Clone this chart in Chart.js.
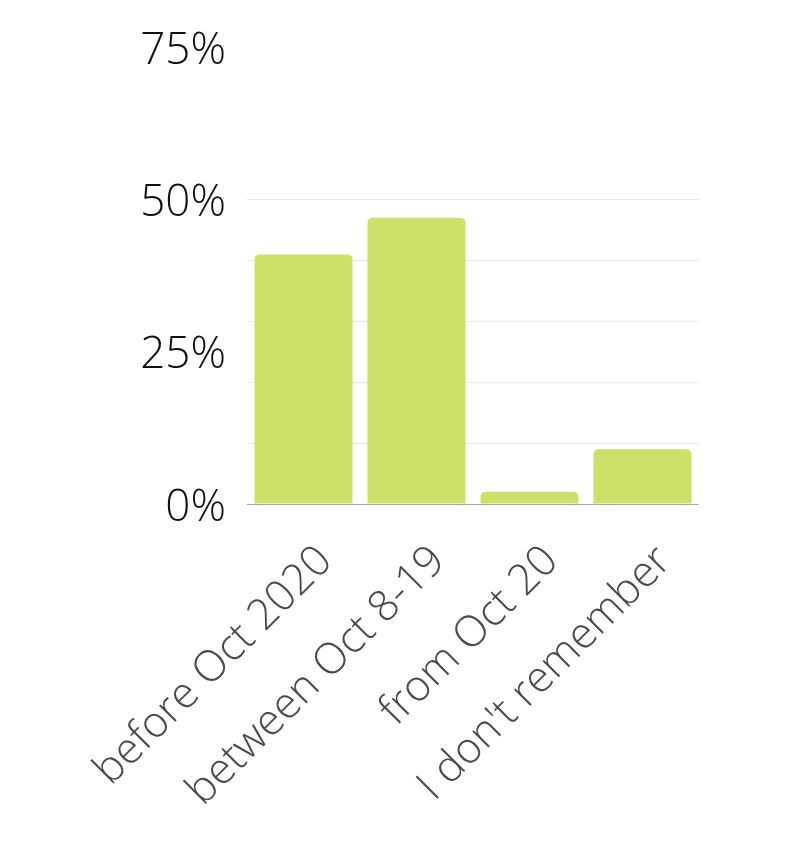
<!DOCTYPE html>
<html>
<head>
<meta charset="utf-8">
<script src="https://cdn.jsdelivr.net/npm/chart.js@4/dist/chart.umd.min.js"></script>
<style>
    html, body { margin: 0; padding: 0; background: #fff; }
    #wrap { width: 800px; height: 850px; }
</style>
</head>
<body>
<div id="wrap"><canvas id="answerChart"></canvas></div>
<script>
// values
const categories = ['before Oct 2020', 'between Oct 8-19', 'from Oct 20', "I don't remember"];
const shares = [41, 47, 2, 9];
const yTickLabels = [0, 25, 50, 75];
const gridValues = [0, 10, 20, 30, 40, 50];

const allTicks = [...new Set([...gridValues, ...yTickLabels])].sort((a, b) => a - b);

new Chart(document.getElementById('answerChart'), {
    type: 'bar',
    data: {
        labels: categories,
        datasets: [{
            data: shares,
            backgroundColor: '#cbe167',
            borderRadius: { topLeft: 5, topRight: 5 },
            borderSkipped: 'start',
            barPercentage: 0.867,
            categoryPercentage: 1
        }]
    },
    options: {
        responsive: true,
        maintainAspectRatio: false,
        animation: false,
        layout: { padding: { top: 45, right: 101, bottom: 0, left: 0 } },
        plugins: { legend: { display: false }, tooltip: { enabled: false } },
        scales: {
            x: {
                grid: { display: false },
                border: { display: false },
                ticks: {
                    color: '#4a4a4a',
                    font: { family: 'Open Sans', size: 43, weight: 300 },
                    minRotation: 45,
                    maxRotation: 45,
                    autoSkip: false,
                    padding: 24,
                    labelOffset: 22
                },
                afterFit: (scale) => { scale.height = 850 - 504; }
            },
            y: {
                min: 0,
                max: 75,
                border: { display: false },
                grid: {
                    drawTicks: false,
                    lineWidth: 1,
                    color: (ctx) => {
                        const v = ctx.tick ? ctx.tick.value : null;
                        if (v === 0) return '#aaaaaa';
                        return gridValues.includes(v) ? '#e8e8e8' : 'rgba(0,0,0,0)';
                    }
                },
                afterBuildTicks: (scale) => {
                    scale.ticks = allTicks.map(v => ({ value: v }));
                },
                ticks: {
                    color: '#111',
                    autoSkip: false,
                    padding: 21,
                    labelOffset: 4,
                    font: { family: 'Open Sans', size: 44, weight: 300 },
                    callback: (v) => yTickLabels.includes(v) ? v + '%' : ''
                },
                afterFit: (scale) => { scale.width = 247; }
            }
        }
    }
});
</script>
</body>
</html>
